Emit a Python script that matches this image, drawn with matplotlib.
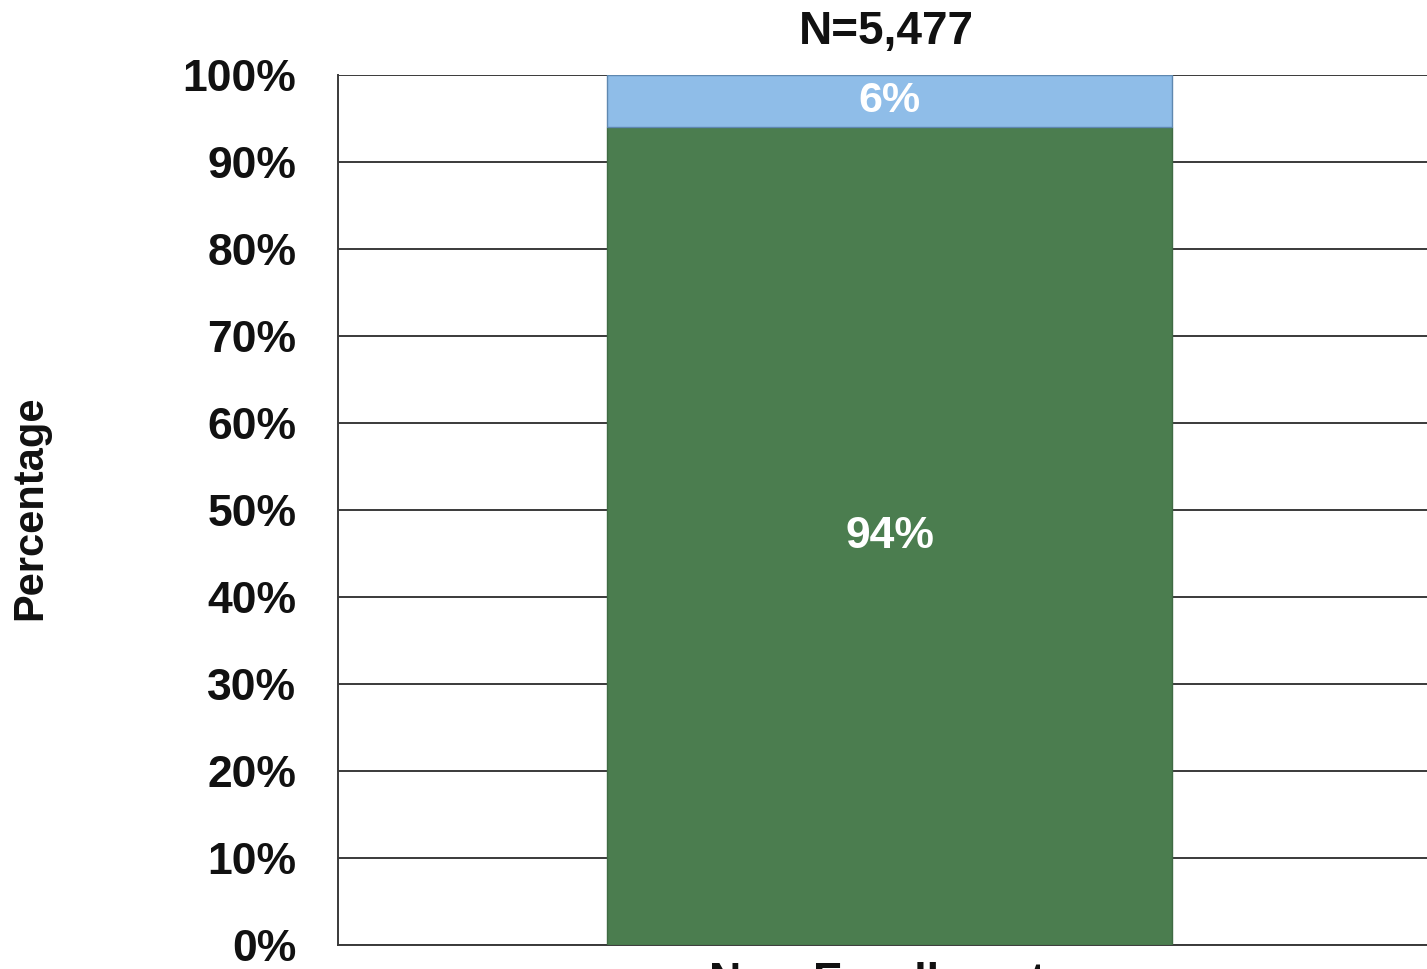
import matplotlib.pyplot as plt
import matplotlib.ticker as mticker

# Enrollment split, stacked to 100%
categories = ["New Enrollments"]
lower_pct = [94]
upper_pct = [6]
title_text = "N=5,477"
y_ticks = [0, 10, 20, 30, 40, 50, 60, 70, 80, 90, 100]

GREEN = "#4b7d4f"
BLUE = "#8fbde8"
INK = "#111111"
GRID = "#3a3a3a"

plt.rcParams["font.family"] = ["Liberation Sans", "DejaVu Sans"]
plt.rcParams["font.weight"] = "bold"

fig = plt.figure(figsize=(14.27, 9.69), dpi=100)
ax = fig.add_axes([0.2369, 0.0248, 0.7729, 0.8978])

x = range(len(categories))
ax.bar(x, lower_pct, width=0.512, color=GREEN, edgecolor="#3f6b43",
       linewidth=1.0, zorder=3)
ax.bar(x, upper_pct, bottom=lower_pct, width=0.512, color=BLUE,
       edgecolor="#5f88b0", linewidth=1.0, zorder=3)

for xi, lo, up in zip(x, lower_pct, upper_pct):
    ax.text(xi, lo / 2, f"{lo}%", ha="center", va="center", color="white",
            fontsize=32, fontweight="bold", zorder=4)
    ax.text(xi, lo + up / 2, f"{up}%", ha="center", va="center", color="white",
            fontsize=31, fontweight="bold", zorder=4)

ax.set_xlim(-0.5, 0.5)
ax.set_ylim(0, 100)
ax.set_yticks(y_ticks)
ax.yaxis.set_major_formatter(mticker.FuncFormatter(lambda v, _: f"{v:.0f}%"))
ax.tick_params(axis="y", length=0, pad=30, labelsize=32, labelcolor=INK)
ax.set_xticks(list(x))
ax.set_xticklabels(categories)
ax.tick_params(axis="x", length=0, pad=12, labelsize=32, labelcolor=INK)

ax.grid(axis="y", color=GRID, linewidth=1.4, zorder=0)
ax.set_axisbelow(True)
for side in ("top", "right"):
    ax.spines[side].set_visible(False)
ax.spines["left"].set_color(GRID)
ax.spines["left"].set_linewidth(1.4)
ax.spines["bottom"].set_color(GRID)
ax.spines["bottom"].set_linewidth(1.4)

ax.set_ylabel("Percentage", fontsize=30, fontweight="bold", color=INK)
ax.yaxis.set_label_coords(-0.261, 0.503)
ax.set_title(title_text, fontsize=33, fontweight="bold", color=INK, pad=22,
             x=0.497)

fig.savefig("out.png", dpi=100)
